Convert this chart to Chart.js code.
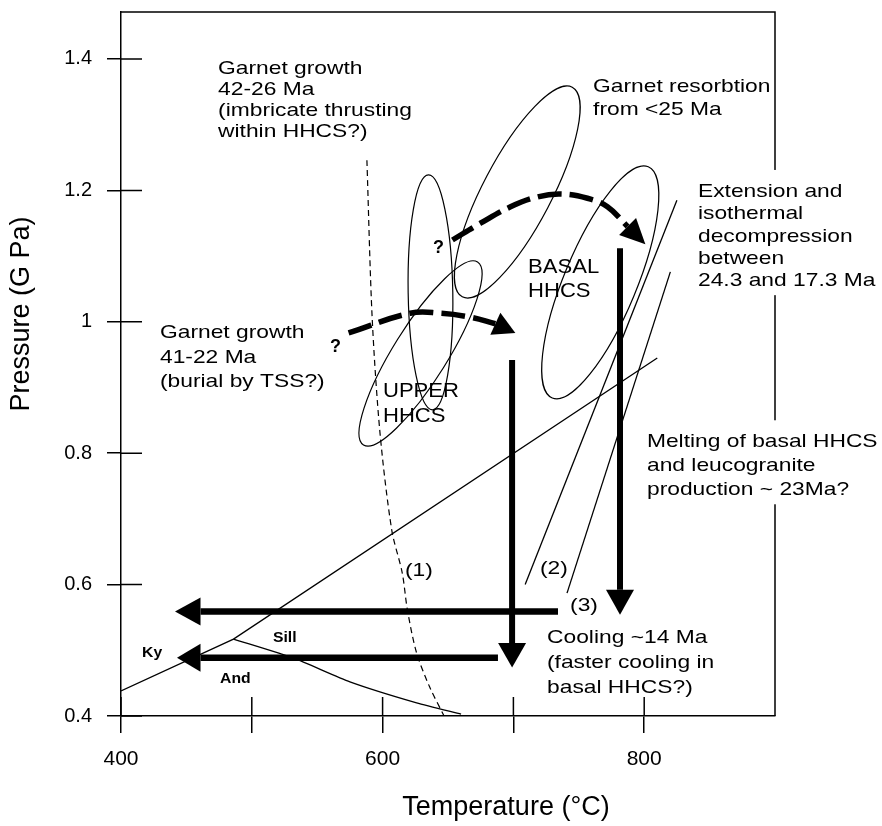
<!DOCTYPE html>
<html>
<head>
<meta charset="utf-8">
<script src="https://cdn.jsdelivr.net/npm/chart.js@4.4.1/dist/chart.umd.min.js"></script>
<style>
  html, body { margin: 0; padding: 0; background: #fff; }
</style>
</head>
<body>
<canvas id="ptChart" width="882" height="826"></canvas>
<script>
// axis ticks
const tempTicks = [400, 500, 600, 700, 800];
const tempTickLabels = ["400", "", "600", "", "800"];
const pressTicks = [0.4, 0.6, 0.8, 1.0, 1.2, 1.4];
const pressTickLabels = ["0.4", "0.6", "0.8", "1", "1.2", "1.4"];

// Al2SiO5 reaction lines
const kyT = [400, 486, 810];
const kyP = [0.438, 0.517, 0.945];
const sillAndT = [486, 532, 575, 626, 660];
const sillAndP = [0.517, 0.488, 0.452, 0.420, 0.403];

// reaction (1) dashed, (2), (3)
const curve1T = [588, 592, 598, 607, 615, 619, 626, 636, 647];
const curve1P = [1.246, 1.007, 0.831, 0.683, 0.618, 0.561, 0.496, 0.444, 0.400];
const curve2T = [709, 825];
const curve2P = [0.600, 1.185];
const curve3T = [741, 820];
const curve3P = [0.587, 1.076];

// P-T fields: major axis ends + width ratio
const fieldT1 = [745.0, 635.1, 585.4, 803.1];
const fieldP1 = [1.357, 1.2235, 0.8125, 1.236];
const fieldT2 = [660.9, 638.1, 672.6, 729.7];
const fieldP2 = [1.038, 0.866, 1.091, 0.884];
const fieldRatio = [0.29, 0.19, 0.25, 0.29];

// path arrows (shaft ends at head base, tip separately)
const burialT = [574, 621.2, 644.1, 667.1, 686.2];
const burialP = [0.983, 1.013, 1.013, 1.007, 0.997];
const burialTip = [701.5, 0.983];
const thrustT = [653.4, 674.8, 697.8, 718.3, 735.9, 756.6, 771.9, 787.3];
const thrustP = [1.1245, 1.150, 1.175, 1.190, 1.1945, 1.188, 1.175, 1.145];
const thrustTip = [800.9, 1.118];
const decompUpperT = [699, 699];
const decompUpperP = [0.942, 0.511];
const decompUpperTip = [699, 0.474];
const decompBasalT = [781.5, 781.5];
const decompBasalP = [1.112, 0.592];
const decompBasalTip = [781.5, 0.554];
const coolBasalT = [734.1, 460.8];
const coolBasalP = [0.559, 0.559];
const coolBasalTip = [441.3, 0.559];
const coolUpperT = [688.2, 460.8];
const coolUpperP = [0.4887, 0.4887];
const coolUpperTip = [442.8, 0.4887];

// text notes, anchored at first baseline (T, P)
const notes = [
  { lines: ["Garnet growth", "42-26 Ma", "(imbricate thrusting", "within HHCS?)"], t: 474.2, p: 1.377, pitch: 21 },
  { lines: ["Garnet growth", "41-22 Ma", "(burial by TSS?)"], t: 429.8, p: 0.975, pitch: 24.5 },
  { lines: ["Garnet resorbtion", "from <25 Ma"], t: 760.9, p: 1.350, pitch: 23 },
  { lines: ["Extension and", "isothermal", "decompression", "between", "24.3 and 17.3 Ma"], t: 841.1, p: 1.190, pitch: 22.3, box: true },
  { lines: ["Melting of basal HHCS", "and leucogranite", "production ~ 23Ma?"], t: 802.1, p: 0.809, pitch: 24, box: true },
  { lines: ["Cooling ~14 Ma", "(faster cooling in", "basal HHCS?)"], t: 725.7, p: 0.511, pitch: 25 },
  { lines: ["(1)"], t: 617.1, p: 0.613, pitch: 0 },
  { lines: ["(2)"], t: 720.3, p: 0.616, pitch: 0 },
  { lines: ["(3)"], t: 743.3, p: 0.560, pitch: 0 }
];
const fieldNames = [
  { lines: ["BASAL", "HHCS"], t: 711.2, p: 1.074, pitch: 24 },
  { lines: ["UPPER", "HHCS"], t: 600.3, p: 0.886, pitch: 25 }
];
const marks = [
  { text: "?", t: 559.8, p: 0.954 },
  { text: "?", t: 638.5, p: 1.105 }
];
const phases = [
  { text: "Ky", t: 416.1, p: 0.490 },
  { text: "Sill", t: 516.2, p: 0.513 },
  { text: "And", t: 475.7, p: 0.450 }
];

const FONT = "'Liberation Sans', Arial, Helvetica, sans-serif";

function pts(ts, ps) {
  return ts.map((t, i) => ({ x: t, y: ps[i] }));
}

function thin(label, ts, ps, extra) {
  return Object.assign({
    label: label, data: pts(ts, ps), showLine: true,
    borderColor: "#000", borderWidth: 1.3, pointRadius: 0, tension: 0, fill: false
  }, extra || {});
}

function arrow(label, ts, ps, tip, extra) {
  return Object.assign({
    label: label, data: pts(ts, ps), showLine: true, arrowTip: tip,
    borderColor: "#000", borderWidth: 6.5, borderCapStyle: "butt",
    pointRadius: 0, tension: 0, fill: false
  }, extra || {});
}

function stretchText(ctx, str, x, y, sx) {
  ctx.save();
  ctx.translate(x, y);
  ctx.scale(sx, 1);
  ctx.fillText(str, 0, 0);
  ctx.restore();
}

const framePlugin = {
  id: "frame",
  beforeDatasetsDraw(chart) {
    const { ctx, chartArea: a, scales } = chart;
    ctx.save();
    ctx.strokeStyle = "#000";
    ctx.lineWidth = 1.5;
    ctx.beginPath();
    ctx.moveTo(a.left, a.top);
    ctx.lineTo(a.right, a.top);
    ctx.lineTo(a.right, a.bottom);
    // inner halves of the crossing ticks
    tempTicks.forEach(v => {
      const px = scales.x.getPixelForValue(v);
      ctx.moveTo(px, a.bottom);
      ctx.lineTo(px, a.bottom - 19);
    });
    pressTicks.forEach(v => {
      const py = scales.y.getPixelForValue(v);
      ctx.moveTo(a.left, py);
      ctx.lineTo(a.left + 21, py);
    });
    ctx.stroke();

    // P-T fields
    ctx.lineWidth = 1.2;
    fieldT1.forEach((t1, i) => {
      const x1 = scales.x.getPixelForValue(t1), y1 = scales.y.getPixelForValue(fieldP1[i]);
      const x2 = scales.x.getPixelForValue(fieldT2[i]), y2 = scales.y.getPixelForValue(fieldP2[i]);
      const half = Math.hypot(x2 - x1, y2 - y1) / 2;
      ctx.beginPath();
      ctx.ellipse((x1 + x2) / 2, (y1 + y2) / 2, half, half * fieldRatio[i], Math.atan2(y2 - y1, x2 - x1), 0, Math.PI * 2);
      ctx.stroke();
    });
    ctx.restore();
  },
  afterDatasetsDraw(chart) {
    const { ctx, scales } = chart;
    const sx = scales.x, sy = scales.y;
    ctx.save();
    ctx.fillStyle = "#000";

    // arrow heads
    chart.data.datasets.forEach((ds, i) => {
      if (!ds.arrowTip) return;
      const meta = chart.getDatasetMeta(i);
      const base = meta.data[meta.data.length - 1];
      const tx = sx.getPixelForValue(ds.arrowTip[0]), ty = sy.getPixelForValue(ds.arrowTip[1]);
      const dx = tx - base.x, dy = ty - base.y;
      const len = Math.hypot(dx, dy);
      const hw = ds.headHalf || 14;
      const nx = -dy / len * hw, ny = dx / len * hw;
      ctx.beginPath();
      ctx.moveTo(tx, ty);
      ctx.lineTo(base.x + nx, base.y + ny);
      ctx.lineTo(base.x - nx, base.y - ny);
      ctx.closePath();
      ctx.fill();
    });

    // notes
    ctx.textBaseline = "alphabetic";
    ctx.textAlign = "left";
    ctx.font = "19px " + FONT;
    notes.forEach(n => {
      const x = sx.getPixelForValue(n.t), y = sy.getPixelForValue(n.p);
      if (n.box) {
        ctx.fillStyle = "#fff";
        ctx.fillRect(x - 6, y - 27, 882 - x + 6, (n.lines.length - 1) * n.pitch + 36);
        ctx.fillStyle = "#000";
      }
      n.lines.forEach((s, k) => stretchText(ctx, s, x, y + k * n.pitch, 1.2));
    });
    ctx.font = "21px " + FONT;
    fieldNames.forEach(n => {
      const x = sx.getPixelForValue(n.t), y = sy.getPixelForValue(n.p);
      n.lines.forEach((s, k) => stretchText(ctx, s, x, y + k * n.pitch, 1.05));
    });
    ctx.font = "bold 18px " + FONT;
    marks.forEach(m => stretchText(ctx, m.text, sx.getPixelForValue(m.t), sy.getPixelForValue(m.p), 1));
    ctx.font = "bold 15px " + FONT;
    phases.forEach(m => stretchText(ctx, m.text, sx.getPixelForValue(m.t), sy.getPixelForValue(m.p), 1.05));

    // axis titles
    ctx.font = "27px " + FONT;
    ctx.textAlign = "center";
    ctx.textBaseline = "middle";
    ctx.fillText("Temperature (°C)", 506, 808);
    ctx.save();
    ctx.translate(22, 314);
    ctx.rotate(-Math.PI / 2);
    ctx.fillText("Pressure (G Pa)", 0, 0);
    ctx.restore();
    ctx.restore();
  }
};

const dashedPath = { borderWidth: 5.5, borderDash: [24, 8], tension: 0.4, headHalf: 12 };

new Chart(document.getElementById("ptChart"), {
  type: "scatter",
  data: {
    datasets: [
      thin("Ky-Sill / Ky-And", kyT, kyP),
      thin("Sill-And", sillAndT, sillAndP, { tension: 0.2 }),
      thin("(1)", curve1T, curve1P, { borderDash: [6, 4], borderWidth: 1.2, tension: 0.3 }),
      thin("(2)", curve2T, curve2P),
      thin("(3)", curve3T, curve3P),
      arrow("burial", burialT, burialP, burialTip, dashedPath),
      arrow("thrusting", thrustT, thrustP, thrustTip, dashedPath),
      arrow("decompression upper", decompUpperT, decompUpperP, decompUpperTip, { borderWidth: 6 }),
      arrow("decompression basal", decompBasalT, decompBasalP, decompBasalTip, { borderWidth: 6 }),
      arrow("cooling basal", coolBasalT, coolBasalP, coolBasalTip),
      arrow("cooling upper", coolUpperT, coolUpperP, coolUpperTip)
    ]
  },
  options: {
    responsive: false,
    animation: false,
    events: [],
    layout: { padding: { top: 12, right: 107, left: 0, bottom: 0 } },
    plugins: { legend: { display: false }, tooltip: { enabled: false } },
    scales: {
      x: {
        type: "linear",
        min: 400,
        max: 900,
        afterBuildTicks: s => { s.ticks = tempTicks.map(v => ({ value: v })); },
        afterFit: s => { s.height = 110; s.paddingLeft = 0; s.paddingRight = 0; },
        ticks: {
          callback: (v, i) => tempTickLabels[i],
          color: "#000",
          font: { family: FONT, size: 21 },
          padding: 14,
          maxRotation: 0,
          autoSkip: false
        },
        grid: { display: true, drawOnChartArea: false, drawTicks: true, tickLength: 17, color: "#000", lineWidth: 1.5 },
        border: { display: true, color: "#000", width: 1.5 }
      },
      y: {
        type: "linear",
        min: 0.4,
        max: 1.4715,
        afterBuildTicks: s => { s.ticks = pressTicks.map(v => ({ value: v })); },
        afterFit: s => { s.width = 121; s.paddingTop = 0; s.paddingBottom = 0; },
        ticks: {
          callback: (v, i) => pressTickLabels[i],
          color: "#000",
          font: { family: FONT, size: 20 },
          padding: 15,
          autoSkip: false
        },
        grid: { display: true, drawOnChartArea: false, drawTicks: true, tickLength: 14, color: "#000", lineWidth: 1.5 },
        border: { display: true, color: "#000", width: 1.5 }
      }
    }
  },
  plugins: [framePlugin]
});
</script>
</body>
</html>
